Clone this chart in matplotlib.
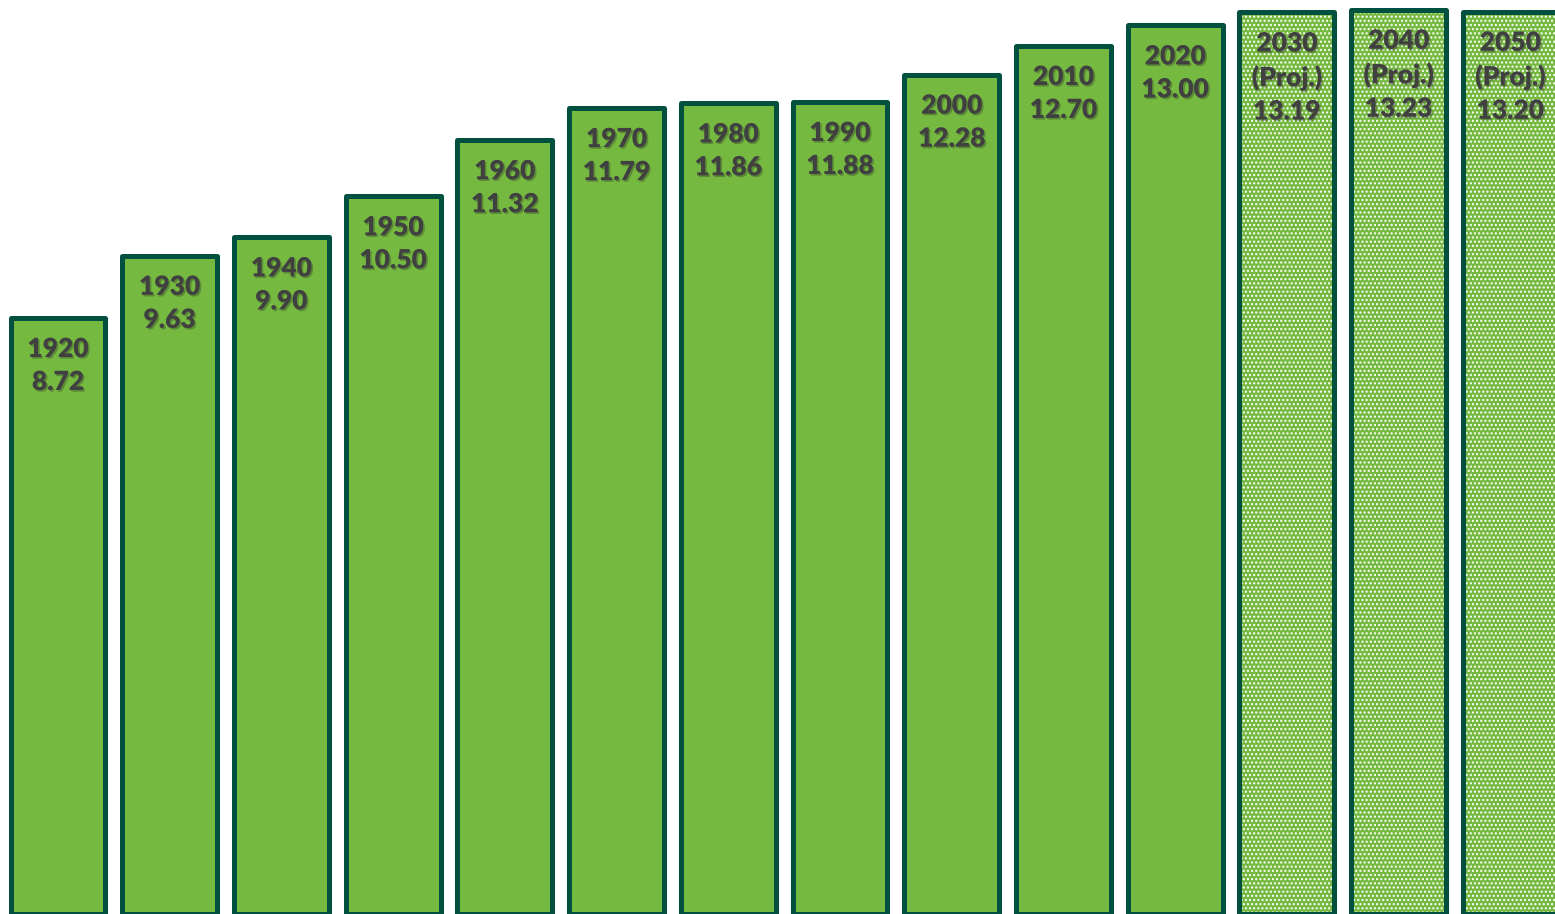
import matplotlib
matplotlib.use("Agg")
import matplotlib.pyplot as plt
import matplotlib.patheffects as pe

# decade, projected flag and value for each bar
years = ["1920", "1930", "1940", "1950", "1960", "1970", "1980",
         "1990", "2000", "2010", "2020", "2030", "2040", "2050"]
values = [8.72, 9.63, 9.90, 10.50, 11.32, 11.79, 11.86,
          11.88, 12.28, 12.70, 13.00, 13.19, 13.23, 13.20]
projected = [False] * 11 + [True] * 3

fill = "#76b941"
edge = "#02503f"
text_col = "#404040"

fig = plt.figure(figsize=(15.55, 9.14), dpi=100)
ax = fig.add_axes([0, 0, 1, 1])

x = list(range(len(years)))
width = 0.85

for xi, v, proj in zip(x, values, projected):
    if proj:
        # dotted fill for projections: green base, white dot hatch, then outline
        ax.bar(xi, v, width=width, color=fill, edgecolor="white",
               hatch="....", linewidth=0)
        ax.bar(xi, v, width=width, fill=False, edgecolor=edge,
               linewidth=3.6, joinstyle="round")
    else:
        ax.bar(xi, v, width=width, color=fill, edgecolor=edge,
               linewidth=3.6, joinstyle="round")

shadow = [pe.withSimplePatchShadow(offset=(1.2, -1.2), shadow_rgbFace="#222222", alpha=0.3)]
for xi, yr, v, proj in zip(x, years, values, projected):
    label = f"{yr}\n(Proj.)\n{v:.2f}" if proj else f"{yr}\n{v:.2f}"
    ax.text(xi, v - 0.28, label, ha="center", va="top", fontsize=19,
            fontweight="heavy", family="Lato", color=text_col,
            linespacing=1.45, path_effects=shadow)

ax.set_xlim(-0.519, 13.40)
ax.set_ylim(0, 13.37)
ax.axis("off")

fig.savefig("out.png", dpi=100)
